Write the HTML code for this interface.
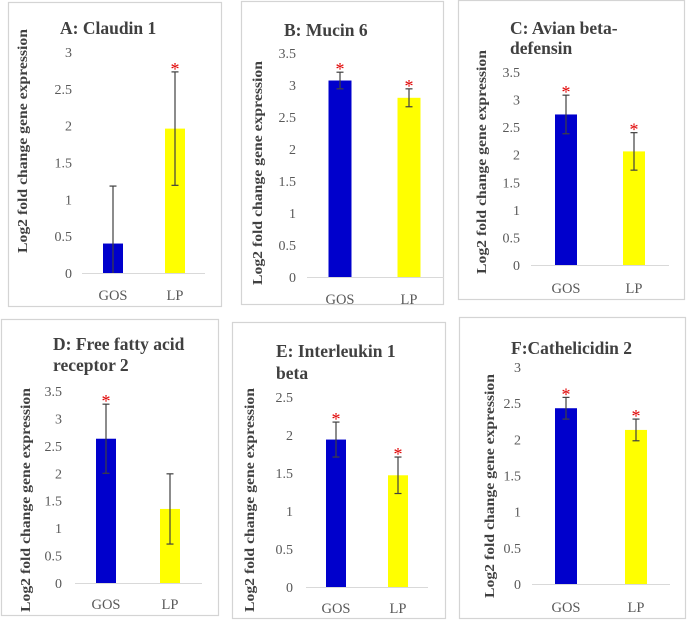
<!DOCTYPE html>
<html><head><meta charset="utf-8"><style>
html,body{margin:0;padding:0;background:#fff;}
svg{display:block;font-family:"Liberation Serif",serif;}
</style></head><body>
<svg id="fig" width="687" height="626" viewBox="0 0 687 626"></svg>
<script>
const categories = ["GOS", "LP"];
const panelTitles = [["A: Claudin 1"], ["B: Mucin 6"], ["C: Avian beta-", "defensin"], ["D: Free fatty acid", "receptor 2"], ["E: Interleukin 1", "beta"], ["F:Cathelicidin 2"]];
const gosMeans = [0.40, 3.07, 2.73, 2.63, 1.94, 2.43];
const gosErrors = [0.78, 0.13, 0.35, 0.63, 0.23, 0.15];
const lpMeans = [1.96, 2.80, 2.06, 1.35, 1.47, 2.13];
const lpErrors = [0.77, 0.14, 0.34, 0.64, 0.24, 0.15];
const gosStar = [false, true, true, true, true, true];
const lpStar = [true, true, true, false, true, true];
const yMaxes = [3, 3.5, 3.5, 3.5, 2.5, 3];
const tickStep = 0.5;

// layout (pixels) - not data
const layouts = [
 {fx:8,fy:2,fw:214,fh:305,tx:60,ty:[28],y0:273,yTop:52,ax0:82,ax1:205,gx:113,lx:175,bw:20,cy:295,ytx:22,ytc:141,tickX:72},
 {fx:241,fy:1,fw:203,fh:304,tx:284,ty:[30],y0:277,yTop:53,ax0:307,ax1:444,gx:340,lx:409,bw:23,cy:299,ytx:257,ytc:173,tickX:296},
 {fx:458,fy:0,fw:227,fh:300,tx:510,ty:[28,48],y0:265,yTop:72,ax0:531,ax1:669,gx:566,lx:634,bw:22,cy:288,ytx:481,ytc:162,tickX:520},
 {fx:1,fy:319,fw:218,fh:297,tx:53,ty:[344,365],y0:583,yTop:391,ax0:75,ax1:202,gx:106,lx:170,bw:20,cy:604,ytx:25,ytc:500,tickX:62},
 {fx:232,fy:322,fw:214,fh:297,tx:276,ty:[351,373],y0:587,yTop:397,ax0:306,ax1:428,gx:336,lx:398,bw:20,cy:608,ytx:249,ytc:500,tickX:293},
 {fx:459,fy:317,fw:227,fh:302,tx:511,ty:[348],y0:584,yTop:367,ax0:532,ax1:670,gx:566,lx:636,bw:22,cy:607,ytx:489,ytc:486,tickX:521}
];

const NS = "http://www.w3.org/2000/svg";
const svg = document.getElementById("fig");
function mk(tag, attrs, parent, text) {
  const e = document.createElementNS(NS, tag);
  for (const k in attrs) e.setAttribute(k, attrs[k]);
  if (text !== undefined) e.textContent = text;
  parent.appendChild(e);
  return e;
}
const letters = ["a","b","c","d","e","f"];
layouts.forEach((L, i) => {
  const g = mk("g", {}, svg);
  
  
  const frame = mk("rect", {x:L.fx+0.5, y:L.fy+0.5, width:L.fw-1, height:L.fh-1, fill:"#fff", stroke:"#d4d4d4", "stroke-width":1.2}, g);
  
  
  const yScale = v => L.y0 - (v / yMaxes[i]) * (L.y0 - L.yTop);
  panelTitles[i].forEach((line, j) => {
    const t = mk("text", {x:L.tx, y:L.ty[j]+6, "font-size":17.5, "font-weight":"bold", fill:"#404040"}, g, line);
    
    
  });
  for (let v = 0; v <= yMaxes[i] + 1e-9; v += tickStep) {
    const t = mk("text", {x:L.tickX, y:yScale(v)+5, "font-size":14, fill:"#595959", "text-anchor":"end"}, g, String(Math.round(v*10)/10));
    
    
  }
  const yt = mk("text", {x:L.ytx, y:L.ytc, "font-size":14, "font-weight":"bold", fill:"#404040", "text-anchor":"middle", textLength:224, lengthAdjust:"spacingAndGlyphs", transform:`rotate(-90 ${L.ytx} ${L.ytc})`, dy:"0.35em"}, g, "Log2 fold change gene expression");
  
  
  const ax = mk("line", {x1:L.ax0, x2:L.ax1, y1:L.y0+0.5, y2:L.y0+0.5, stroke:"#d9d9d9", "stroke-width":1}, g);
  
  
  const series = [
    {c:L.gx, m:gosMeans[i], e:gosErrors[i], s:gosStar[i], col:"#0000cc", n:"gos"},
    {c:L.lx, m:lpMeans[i], e:lpErrors[i], s:lpStar[i], col:"#ffff00", n:"lp"}
  ];
  series.forEach((s, k) => {
    const top = yScale(s.m);
    const b = mk("rect", {x:s.c - L.bw/2, y:top, width:L.bw, height:L.y0 - top, fill:s.col}, g);
    
    
    const hi = yScale(s.m + s.e), lo = yScale(Math.max(0, s.m - s.e));
    const eg = mk("g", {stroke:"#404040", "stroke-width":1.2}, g);
    
    
    mk("line", {x1:s.c, x2:s.c, y1:hi, y2:lo}, eg);
    mk("line", {x1:s.c-3.5, x2:s.c+3.5, y1:hi, y2:hi}, eg);
    if (s.m - s.e > 0) mk("line", {x1:s.c-3.5, x2:s.c+3.5, y1:lo, y2:lo}, eg);
    if (s.s) {
      const st = mk("text", {x:s.c, y:hi + 3, "font-size":18, fill:"#e00000", "text-anchor":"middle"}, g, "*");
      
      
    }
    const cl = mk("text", {x:s.c, y:L.cy+5, "font-size":14.5, fill:"#595959", "text-anchor":"middle"}, g, categories[k]);
    
    
  });
});
</script>
</body></html>
